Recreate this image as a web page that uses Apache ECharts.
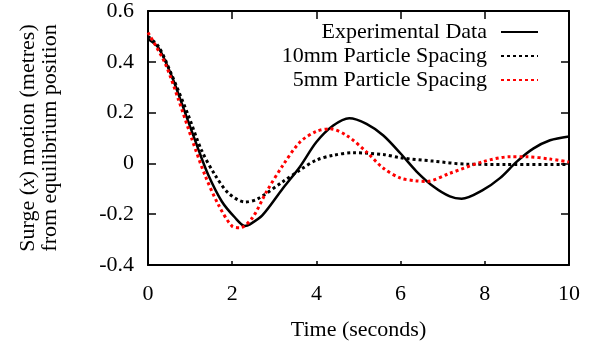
<!DOCTYPE html>
<html>
<head>
    <meta charset="utf-8">
    <title>Surge motion</title>
    <script src="https://cdn.jsdelivr.net/npm/echarts@6/dist/echarts.min.js"></script>
    <style>
        html, body { margin: 0; padding: 0; background: #fff; }
    </style>
</head>
<body>
    <div id="main" style="width: 597px;height:346px;"></div>
    <script type="text/javascript">
        // values (time in seconds, surge in metres)
        var expTime = [0, 0.25, 0.56, 0.88, 1.19, 1.43, 1.75, 2.07, 2.3, 2.42, 2.72, 3.21, 3.61, 4.0, 4.4, 4.78, 5.19, 5.59, 6.0, 6.38, 6.78, 7.17, 7.45, 7.96, 8.36, 8.76, 9.15, 9.55, 10.0];
        var expSurge = [0.49, 0.455, 0.345, 0.2, 0.058, -0.045, -0.149, -0.214, -0.246, -0.24, -0.204, -0.097, -0.013, 0.084, 0.149, 0.178, 0.156, 0.11, 0.039, -0.032, -0.091, -0.13, -0.139, -0.104, -0.058, 0.007, 0.058, 0.091, 0.106];

        var sp10Time = [0, 0.25, 0.56, 0.96, 1.27, 1.59, 1.91, 2.3, 2.6, 3.21, 3.61, 4.0, 4.4, 4.88, 5.59, 6.0, 6.77, 7.57, 8.5, 10.0];
        var sp10Surge = [0.5, 0.46, 0.35, 0.188, 0.052, -0.045, -0.117, -0.152, -0.14, -0.071, -0.026, 0.013, 0.032, 0.042, 0.035, 0.022, 0.009, -0.003, -0.004, -0.004];

        var sp5Time = [0, 0.4, 0.72, 1.04, 1.35, 1.67, 1.99, 2.19, 2.48, 2.82, 3.21, 3.61, 4.0, 4.32, 4.72, 5.19, 5.59, 6.0, 6.38, 6.62, 7.17, 7.96, 8.6, 9.0, 9.55, 10.0];
        var sp5Surge = [0.515, 0.396, 0.253, 0.097, -0.045, -0.162, -0.246, -0.253, -0.214, -0.11, -0.006, 0.084, 0.126, 0.136, 0.11, 0.045, -0.019, -0.058, -0.069, -0.071, -0.039, 0.007, 0.026, 0.026, 0.017, 0.005];

        var seriesNames = ['Experimental Data', '10mm Particle Spacing', '5mm Particle Spacing'];

        function pairs(xs, ys) {
            return xs.map(function (x, i) { return [x, ys[i]]; });
        }

        var font = 'Liberation Serif';
        var fs = 22;
        var W = 597, H = 346;
        var grid = { left: 148, right: 28, top: 11, bottom: 77 };
        var plotW = W - grid.left - grid.right;
        var plotH = H - grid.top - grid.bottom;
        var tickLen = 8;

        var myChart = echarts.init(document.getElementById('main'));

        function axisLine() {
            return { show: true, onZero: false, lineStyle: { color: '#000', width: 2 } };
        }
        // inward tick marks on both sides of the frame: a split line that is
        // only drawn for tickLen px at each end
        function tickSplit(span) {
            return { show: true, lineStyle: { color: '#000', width: 1.5, type: [tickLen, span - 2 * tickLen] } };
        }

        option = {
            animation: false,
            backgroundColor: '#fff',
            grid: grid,
            legend: {
                orient: 'vertical',
                right: 53,
                top: 16,
                align: 'right',
                itemWidth: 37,
                itemHeight: 20,
                itemGap: 2,
                itemStyle: { color: 'transparent', borderWidth: 0 },
                textStyle: { fontFamily: font, fontSize: fs, color: '#000', padding: [0, 9, 0, 0] },
                data: seriesNames
            },
            xAxis: [{
                type: 'value',
                min: 0, max: 10, interval: 2,
                axisLine: axisLine(),
                axisTick: { show: false },
                splitLine: tickSplit(plotH),
                axisLabel: { margin: 18, fontFamily: font, fontSize: fs, color: '#000' },
                name: 'Time (seconds)',
                nameLocation: 'middle',
                nameGap: 54,
                nameTextStyle: { fontFamily: font, fontSize: fs, color: '#000' }
            }, {
                type: 'value',
                position: 'top',
                min: 0, max: 10, interval: 2,
                axisLine: axisLine(),
                axisTick: { show: false },
                splitLine: { show: false },
                axisLabel: { show: false }
            }],
            yAxis: [{
                type: 'value',
                min: -0.4, max: 0.6, interval: 0.2,
                axisLine: axisLine(),
                axisTick: { show: false },
                splitLine: tickSplit(plotW),
                axisLabel: {
                    margin: 14, fontFamily: font, fontSize: fs, color: '#000',
                    formatter: function (v) { return Math.abs(v) < 1e-9 ? '0' : v.toFixed(1); }
                },
                name: 'Surge ({i|x}) motion (metres)\nfrom equilibrium position',
                nameLocation: 'middle',
                nameRotate: 90,
                nameGap: 87,
                nameTextStyle: {
                    fontFamily: font, fontSize: fs, color: '#000', lineHeight: 22,
                    rich: { i: { fontFamily: font, fontSize: fs, fontStyle: 'italic', color: '#000', lineHeight: 22 } }
                }
            }, {
                type: 'value',
                position: 'right',
                min: -0.4, max: 0.6, interval: 0.2,
                axisLine: axisLine(),
                axisTick: { show: false },
                splitLine: { show: false },
                axisLabel: { show: false }
            }],
            series: [{
                name: seriesNames[0],
                type: 'line',
                smooth: 0.3,
                showSymbol: false,
                symbol: 'none',
                color: '#000',
                lineStyle: { color: '#000', width: 2.5 },
                data: pairs(expTime, expSurge)
            }, {
                name: seriesNames[1],
                type: 'line',
                smooth: 0.3,
                showSymbol: false,
                symbol: 'none',
                color: '#000',
                lineStyle: { color: '#000', width: 3, type: [3, 3] },
                data: pairs(sp10Time, sp10Surge)
            }, {
                name: seriesNames[2],
                type: 'line',
                smooth: 0.3,
                showSymbol: false,
                symbol: 'none',
                color: '#ff0000',
                lineStyle: { color: '#ff0000', width: 3, type: [3, 3] },
                data: pairs(sp5Time, sp5Surge)
            }]
        };
        myChart.setOption(option);
    </script>
</body>
</html>
